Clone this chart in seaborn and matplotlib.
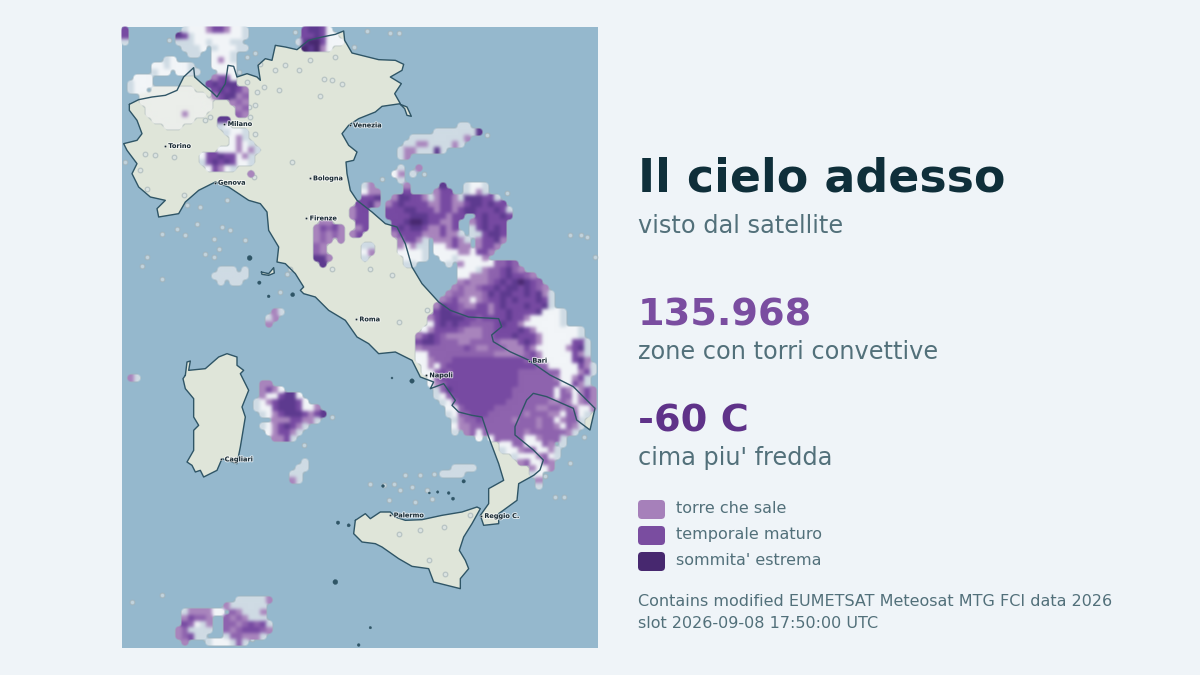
import numpy as np
import pandas as pd
import matplotlib
matplotlib.use("Agg")
import matplotlib.pyplot as plt
import seaborn as sns
from matplotlib.colors import ListedColormap
from matplotlib.patches import FancyBboxPatch
import matplotlib.patheffects as pe

sns.set_theme(style="white")
plt.rcParams['font.family'] = ['DejaVu Sans']

# colours
PAGE = '#eff4f8'
SEA = '#95b8cd'
LAND = '#dfe5d9'
COAST = '#2f5566'
DARK = '#0f2f3a'
MUTED = '#52707a'

# map units: 1/3 of a pixel, cloud cells are 18 units wide
MAP_W, MAP_H, CELL = 1428, 1863, 18

mainland = [(22,232),(50,218),(90,210),(130,205),(165,190),(185,150),(215,122),(218,150),(240,170),(270,195),(285,210),
    (310,170),(318,115),(335,118),(345,150),(375,140),(405,150),(415,160),(408,115),(430,95),(450,100),(460,55),(490,60),
    (525,68),(560,40),(600,30),(640,22),(665,12),(668,40),(690,78),(730,88),(770,98),(820,100),(845,112),(840,130),
    (805,150),(838,170),(818,200),(835,230),(780,238),(760,255),(710,275),(680,295),(660,320),(680,355),(705,375),
    (695,400),(672,405),(675,440),(685,490),(705,520),(750,555),(790,590),(825,600),(850,650),(870,720),(900,770),
    (950,825),(985,850),(1040,870),(1130,875),(1139,899),(1109,924),(1114,944),(1164,974),(1219,999),(1284,1044),
    (1354,1079),(1394,1119),(1419,1144),(1404,1209),(1364,1179),(1354,1144),(1274,1109),(1234,1099),(1214,1119),
    (1179,1199),(1179,1224),(1234,1269),(1264,1299),(1254,1329),(1235,1345),(1190,1370),(1185,1420),(1130,1460),
    (1130,1490),(1085,1495),(1075,1465),(1100,1430),(1100,1385),(1145,1360),(1130,1310),(1100,1230),(1080,1170),
    (1050,1165),(1010,1155),(990,1135),(1000,1120),(965,1070),(925,1085),(935,1065),(895,1050),(870,1000),(820,975),
    (770,980),(740,950),(705,930),(670,880),(620,850),(580,810),(545,800),(535,790),(545,780),(520,740),(490,710),
    (465,705),(470,660),(440,610),(435,555),(415,530),(380,520),(320,480),(280,465),(230,490),(190,525),(170,560),
    (110,570),(105,545),(130,520),(85,510),(50,480),(30,440),(45,410),(15,370),(5,350),(45,340),(60,320),(45,280),(22,250)]
sardinia = [(190,1045),(195,1005),(205,1002),(200,1030),(250,1025),(290,990),(315,980),(345,990),(345,1015),(365,1030),
    (355,1040),(380,1090),(360,1140),(370,1170),(355,1260),(345,1310),(300,1295),(285,1330),(245,1350),(235,1330),
    (220,1335),(210,1315),(195,1305),(215,1270),(215,1210),(230,1195),(215,1170),(215,1115),(190,1085),(183,1055)]
sicily = [(700,1480),(730,1460),(745,1475),(775,1455),(805,1455),(820,1470),(850,1480),(900,1478),(960,1465),(1020,1455),
    (1065,1440),(1075,1445),(1050,1490),(1025,1530),(1012,1570),(1030,1600),(1040,1625),(1015,1655),(1015,1685),
    (975,1675),(935,1665),(920,1625),(870,1618),(830,1595),(780,1560),(760,1550),(720,1545),(695,1520)]
elba = [(418,735),(440,740),(455,722),(457,738),(440,745),(420,742)]
hook = [(835,232),(855,240),(868,268),(855,265),(848,245)]
LAND_SHAPES = [mainland, sardinia, sicily, elba, hook]

islet_x = [383,412,440,512,810,870,1025,783,922,947,980,993,648,680,640,745,710]
islet_y = [693,767,808,803,1053,1062,1363,1377,1398,1395,1398,1415,1487,1495,1665,1802,1854]
islet_size = [12,6,4,8,2,10,6,4,2,3,4,5,6,5,12,3,4]

wisp_x = [140,520,530,735,805,830,695,640,375,400,415,350,565,490,460,530,375,425,470,405,595,630,660,605,380,400,385,350,
    265,250,400,510,395,185,75,10,155,100,70,55,315,235,195,300,120,165,190,275,325,370,290,250,275,75,60,120,225,905,780,
    475,495,915,830,505,630,745,810,1155,1345,1378,1395,1420,1095,1335,30,120,545,630,1345,1270,1300,1325,1385,745,785,815,
    835,850,895,935,870,800,880,930,915,830,895,965,1045,920,970,390]
wisp_y = [38,15,45,12,18,18,60,90,90,78,110,135,100,115,130,130,165,180,190,195,208,160,170,155,240,235,270,240,
    270,280,322,405,450,505,485,405,390,385,380,430,520,540,535,600,620,605,625,635,610,640,665,680,690,690,718,755,590,
    440,455,795,740,850,885,725,725,725,745,498,625,625,630,690,325,920,1725,1705,1255,1170,1308,1348,1410,1410,1230,1370,
    1375,1370,1390,1345,1345,1340,1380,1420,1425,1415,1390,1520,1510,1500,1465,1600,1640,1835]

city_names = ['Milano','Venezia','Torino','Genova','Bologna','Firenze','Roma','Bari','Napoli','Cagliari','Palermo','Reggio C.']
city_x = [307,683,129,278,563,553,702,1221,912,298,805,1077]
city_y = [291,295,357,467,454,574,877,1001,1045,1297,1465,1467]

# cloud patches: (first column, first row, rows)
# g thin cloud, c pale on land, w white top, l/p/m/d/x purple from warm to cold
cloud_top = (29, 0, [".mddmw", ".mmdmww", "gdxxmwww", ".xdxlw"])
cloud_alps = (9, 0, [".gwwwlmmlwwg", "dmgwwwwwwwwg", "gggwwgwwwgg", ".gggw.gwwwgg", "..gg..wwwg", "......wlwg",
    "wwg...wwww", "wwgg...www", "......lmmw", ".....mdmdd.", "......mdmdml", "......lmddlp", ".........lpl",
    "..........lp", "..........pl"])
cloud_corner = (0, 0, ["m", "m", "g"])
cloud_nw = (1, 5, ["......gw", "....wwgw", "....gww", ".www..", "gwww", "gww.ccccccc", "..ccccccccccc", "..cccccccccccc",
    "...ccccccccccc", "...cccccclccc", "....ccccccc", "......ccc"])
cloud_milano = (16, 15, ["dd", "gw.", ".gwwg", "..wlg", "..wlwg"])
cloud_piem = (13, 20, ["...wwwlwlg", "wmmdmmwlg", "gmdmdmwwg", ".wmlwg", "........l"])
cloud_firenze = (32, 32, [".ll", "lmpml", "lplpl", "lpl.l", "pl", "pl", "ddl", ".d"])
cloud_marche = (38, 26, ["..gl", "..wll", "..mmd", ".mmdl", "lmm", "lmm", ".mm", ".lm", "lm"])
cloud_small = (40, 36, ["gg", "wl", "g"])
cloud_grey = (15, 40, [".ggg.g", "gggggg", ".g.gg"])
cloud_islet = (24, 47, [".lg", "gl", "l"])
cloud_wisp = (44, 23, ["..g..l", ".wl.g", "..g"])
cloud_dalmatia = (46, 16, ["..........gg", "......gggggggd", "..gggggggggl", ".ggllgggglg", "gllgggdg", "gl"])
cloud_tuscan = (44, 26, ["...l.....d...gwwg", "...m....lmm..gwlg", ".lddmmlglmmlgdddmmg", "lmdmmmmllmmllmddmdmm",
    "mmmddmmmlmmlmddmmmdmg", "mmmmdddmmmlmm..mdmmdm", ".mmdxxdmmllm..lmdmmm", ".mdmddmllmlm..gmdmdm",
    ".lmmmmlllmllg.ggmddm", "..lmmlg.lllmlg.lmmdl", "..lwlgg.wwlmll.lmml", "..wwwwg.wwwwllwmml", "...wwwg..wwgwwwwl",
    "...gg.....g.lwwwww", "............wwwg", "............www", ".............ww"])
cloud_south = (49, 39, [".............ppmp", "...........lppmdpl", ".........lllppmdmmpl", ".......lplllpmdmdxdmp",
    "......lpllpmmdmddmdmpl", ".....lpplllpdmddmmdmdlg", "....lpmllwlpmmdmdmmmdmg", "...ldmmpllmmlmdmmmdmmdg",
    "...mddmpmmmmlmmdmmmmdwwwg", "..lmddddmmpmmmmdmmlwwwwwg", "..wmdmdmmppppmdmmlwwwwwwg", ".wlmmmmplllppmmmmdmlwwwwwwwg",
    "lmdmpllllllppmmmdmmmlwwwwwwg", "mddmpppllppppplllmdmlwwwwwmmg", "lpppppppmpllppplllmlwwwwwlmdg",
    "wwppppppppppplllllpmlwwwwwmlg", "wwlpppmmmmmmmmmmmmpplwwwwwmdl", ".wlwpmmmmmmmmmmmmmmmppwwwwwmlg",
    ".wwpmpmmmmmmmmmmmpppppppwwwlmg", "..wpmmmmmmmmmmmmmpppppplwwlmg", "..wlpmmmmmmmmmmmmpppppppwwmlg",
    "...gpdmmmmmmmmmmpppppppwplwlml", "...gwpmmmmmmmmmmpppppppwppwlml", "....gwpmmmmmmmmpppppppllplwlpl",
    ".....wwpmmmmmpppppppllpplplwwl", ".....gwppmmmpppppplpppllwppwg", "......glppmppppplppplppwlppg",
    "......wllppppppppppplpplwplg", "......g.lpwppppppplpppppplg", "..........w.wpppppwwlpppg", "..............wwppwwwpl.g",
    "..............gwwlppwwlg", "................gwwwlpwg", ".................lpwwpl", "...................lwwl", "...................gw"])
cloud_sard = (22, 59, [".ll", ".lmlw", ".lwwmddw", "gwlmdddmw", "gwwmdddmwwl", ".gwlmdddmlmd", "...lllmmllg",
    ".gwlmdmlg", "..wlmmlg", "...llmg"])
cloud_egadi = (28, 72, ["..g", ".gg", "gg", "lg"])
cloud_aeolian = (53, 73, ["..gggg", "gggg"])
cloud_ul = (1, 58, ["lg"])
cloud_east = (69, 75, ["l", "g"])
cloud_sw = (9, 95, ["..........gggggl", "........lgggggg", ".gllllww.plgggl", ".lmppl..plplggg", ".mpwgl..pplpmpmg",
    "lpgggg..plpmmmpl", "lpmgg...gpplllg", ".l...gwwwgpg"])
CLOUD_PATCHES = [cloud_top, cloud_alps, cloud_corner, cloud_nw, cloud_milano, cloud_piem, cloud_firenze, cloud_marche,
    cloud_small, cloud_grey, cloud_islet, cloud_wisp, cloud_dalmatia, cloud_tuscan, cloud_south, cloud_sard, cloud_egadi,
    cloud_aeolian, cloud_ul, cloud_east, cloud_sw]
LEVELS = "gcwlpmdx"
LEVEL_COLORS = ['#cfdbe4', '#ebeeea', '#f2f5f8', '#a985bd', '#8e63ae', '#774aa2', '#5d3a8f', '#47286f']

legend_labels = ['torre che sale', 'temporale maturo', "sommita' estrema"]
legend_colors = ['#a680ba', '#7a4da0', '#47286f']


def soften(img, dpi):
    # the source raster was resampled, so blur the cells a little
    pad = 8
    out = np.pad(img.astype(float), ((pad, pad), (pad, pad), (0, 0)))
    alpha = out[..., 3:].copy()
    out[..., :3] *= alpha
    for _ in range(6):
        for axis in (0, 1):
            out = (np.roll(out, 1, axis) + 2 * out + np.roll(out, -1, axis)) / 4
    alpha = out[..., 3:]
    out[..., :3] = np.where(alpha > 0, out[..., :3] / np.maximum(alpha, 1e-6), 0)
    out[..., 3] = np.clip((alpha[..., 0] - 0.2) / 0.35, 0, 1)
    return out, -pad, -pad


rows = int(np.ceil(MAP_H / CELL))
cols = int(np.ceil(MAP_W / CELL))
grid = np.full((rows, cols), np.nan)
for col0, row0, lines in CLOUD_PATCHES:
    for r, line in enumerate(lines):
        for c, ch in enumerate(line):
            if ch != '.' and row0 + r < rows and col0 + c < cols:
                grid[row0 + r, col0 + c] = LEVELS.index(ch)
clouds = pd.DataFrame(grid)

fig = plt.figure(figsize=(12, 6.75), dpi=100, facecolor=PAGE)
ax = fig.add_axes([122 / 1200, 1 - 648 / 675, 476 / 1200, 621 / 675], facecolor=SEA)

sns.heatmap(clouds, ax=ax, cmap=ListedColormap(LEVEL_COLORS), vmin=-0.5, vmax=7.5, cbar=False,
            xticklabels=False, yticklabels=False, linewidths=0, zorder=2)
ax.collections[0].set_agg_filter(soften)

for shape in LAND_SHAPES:
    xs = [p[0] / CELL for p in shape]
    ys = [p[1] / CELL for p in shape]
    ax.fill(xs, ys, color=LAND, zorder=1, lw=0)

# grey rim of the cloud field
cx = np.arange(cols) + 0.5
cy = np.arange(rows) + 0.5
ax.contour(cx, cy, (~np.isnan(grid)).astype(float), levels=[0.4], colors='#a4b2b6', linewidths=1.1, alpha=0.6, zorder=1.8)

wisps = pd.DataFrame({'x': np.array(wisp_x) / CELL, 'y': np.array(wisp_y) / CELL})
sns.scatterplot(data=wisps, x='x', y='y', ax=ax, s=11, marker='o', facecolor=(0.85, 0.89, 0.9, 0.2),
                edgecolor='#a4b2b6', linewidth=0.9, alpha=0.65, zorder=1.8, legend=False)

for shape in LAND_SHAPES:
    xs = [p[0] / CELL for p in shape + shape[:1]]
    ys = [p[1] / CELL for p in shape + shape[:1]]
    ax.plot(xs, ys, color=COAST, lw=1.0, zorder=3)

islets = pd.DataFrame({'x': np.array(islet_x) / CELL, 'y': np.array(islet_y) / CELL, 'size': islet_size})
ax.scatter(islets['x'], islets['y'], s=islets['size'], c=[COAST], edgecolors=COAST, linewidths=0.3, zorder=3)

halo = [pe.withStroke(linewidth=1.4, foreground='white', alpha=0.7)]
for name, x, y in zip(city_names, city_x, city_y):
    ax.plot(x / CELL, y / CELL, 'o', ms=1.8, color='#16262e', mec='white', mew=0.3, zorder=4)
    ax.text((x + 10) / CELL, y / CELL, name, fontsize=4.7, fontweight='bold', color='#1c2d36',
            va='center', ha='left', path_effects=halo, zorder=4)

ax.set_xlim(0, MAP_W / CELL)
ax.set_ylim(MAP_H / CELL, 0)
ax.set_xlabel('')
ax.set_ylabel('')
sns.despine(ax=ax, left=True, bottom=True)

# right panel, laid out in pixels
panel = fig.add_axes([0, 0, 1, 1], facecolor='none')
panel.set_xlim(0, 1200)
panel.set_ylim(675, 0)
panel.axis('off')

panel.text(638, 192, 'Il cielo adesso', fontsize=33, fontweight='bold', color=DARK, va='baseline')
panel.text(638, 233, 'visto dal satellite', fontsize=17.3, color=MUTED, va='baseline')
panel.text(638, 325, '135.968', fontsize=27.5, fontweight='bold', color='#7a4da0', va='baseline')
panel.text(638, 359, 'zone con torri convettive', fontsize=17.3, color=MUTED, va='baseline')
panel.text(638, 431, '-60 C', fontsize=27.5, fontweight='bold', color='#5f3289', va='baseline')
panel.text(638, 465, "cima piu' fredda", fontsize=17.3, color=MUTED, va='baseline')

for i, (label, colour) in enumerate(zip(legend_labels, legend_colors)):
    top = 500 + 26 * i
    panel.add_patch(FancyBboxPatch((638, top), 27, 19, boxstyle='round,pad=0,rounding_size=4', fc=colour, ec='none'))
    panel.text(676, top + 13, label, fontsize=11.5, color=MUTED, va='baseline')

panel.text(638, 606, 'Contains modified EUMETSAT Meteosat MTG FCI data 2026', fontsize=11.5, color=MUTED, va='baseline')
panel.text(638, 628, 'slot 2026-09-08 17:50:00 UTC', fontsize=11.5, color=MUTED, va='baseline')

fig.savefig('out.png', dpi=100, facecolor=PAGE)
